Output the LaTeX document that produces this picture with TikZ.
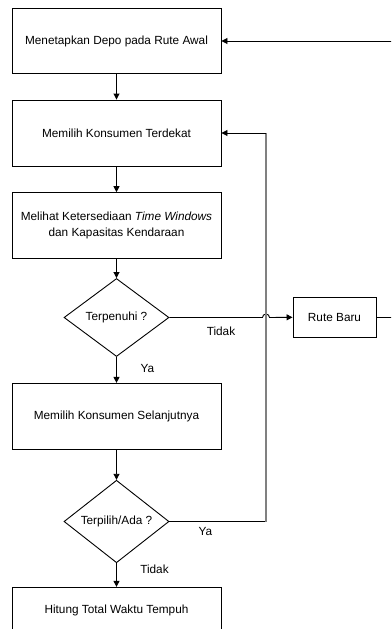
\documentclass[tikz,border=0pt]{standalone}
\usepackage{fontspec}
\setmainfont{Liberation Sans}
\usetikzlibrary{shapes.geometric,arrows.meta}
\begin{document}
\begin{tikzpicture}[x=1pt,y=-1pt,
  every node/.style={font=\fontsize{11.8}{16}\selectfont},
  procbox/.style={draw,line width=0.9pt,rectangle,minimum width=209pt,inner sep=0pt,align=center},
  decbox/.style={draw,line width=0.9pt,diamond,minimum width=105pt,minimum height=78pt,inner sep=0pt,aspect=1},
  conn/.style={line width=0.9pt},
  arr/.style={conn,-{Triangle[length=6pt,width=6pt]}},
  lbl/.style={inner sep=0pt}]
\useasboundingbox (0,0) rectangle (391,629);
\clip (0,0) rectangle (391,629);
\node[procbox,minimum height=65pt] (b1) at (116.5,41) {Menetapkan Depo pada Rute Awal};
\node[procbox,minimum height=66pt] (b2) at (116.5,133) {Memilih Konsumen Terdekat};
\node[procbox,minimum height=65.3pt] (b3) at (116.5,225.3) {Melihat Ketersediaan \textit{Time Windows}\\dan Kapasitas Kendaraan};
\node[decbox] (d1) at (116.5,317.5) {Terpenuhi ?};
\node[draw,line width=0.9pt,rectangle,minimum width=83pt,minimum height=39.3pt,inner sep=0pt] (rb) at (334.5,317.3) {Rute Baru};
\node[procbox,minimum height=65.7pt] (b4) at (116.5,416.2) {Memilih Konsumen Selanjutnya};
\node[decbox] (d2) at (116.5,521.5) {Terpilih/Ada ?};
\node[procbox,minimum height=46pt] (b5) at (116.5,610.3) {Hitung Total Waktu Tempuh};
% labels
\node[lbl] (t1) at (221,331.7) {Tidak};
\node[lbl] (y1) at (147.5,368) {Ya};
\node[lbl] (y2) at (205.5,531.7) {Ya};
\node[lbl] (t2) at (154.5,569) {Tidak};
% coordinates
\coordinate (r1) at (392,41);
\coordinate (r2) at (392,317.3);
\coordinate (j) at (266,317.5);
\coordinate (fb1) at (266,521.5);
\coordinate (fb2) at (266,133);
% connectors
\draw[arr] (b1) -- (b2);
\draw[arr] (b2) -- (b3);
\draw[arr] (b3) -- (d1);
\draw[arr] (d1) -- (b4);
\draw[arr] (b4) -- (d2);
\draw[arr] (d2) -- (b5);
\draw[arr] (r1) -- (b1.east);
\draw[conn] (rb.east) -- (r2);
\draw[arr] (d1.east) -- ([xshift=-3.5pt]j) arc[start angle=180,end angle=0,radius=3.5pt] -- (rb.west);
\draw[conn] (d2.east) -- (fb1);
\draw[line width=1.2pt,gray] (fb1) -- (fb2);
\draw[arr] (fb2) -- (b2.east);
\end{tikzpicture}
\end{document}
